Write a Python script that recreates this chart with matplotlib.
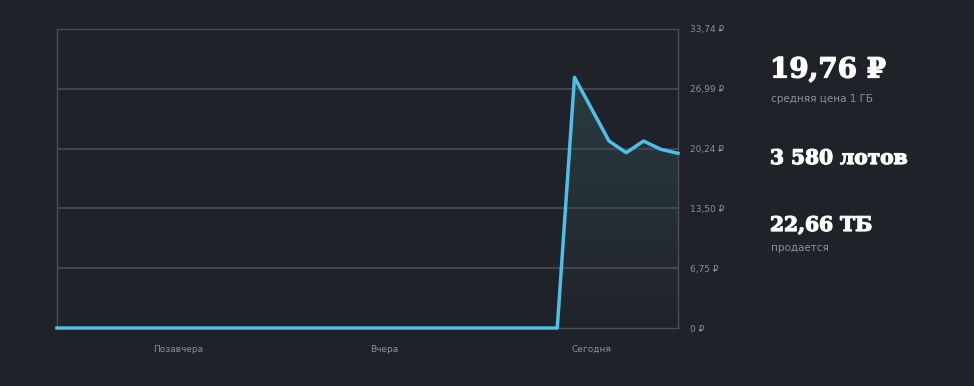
import matplotlib
matplotlib.use("Agg")
import matplotlib.pyplot as plt
import matplotlib.patheffects as pe
import numpy as np
from matplotlib.path import Path
from matplotlib.patches import PathPatch
from matplotlib.colors import LinearSegmentedColormap

# ---- data ----
prices = [0.0] * 30 + [28.29, 24.7, 21.1, 19.78, 21.1, 20.17, 19.71]
x_labels = ["Позавчера", "Вчера", "Сегодня"]
x_label_pos = [7, 19, 31]
y_ticks = [0, 6.75, 13.50, 20.24, 26.99, 33.74]
y_tick_labels = ["0 ₽", "6,75 ₽", "13,50 ₽", "20,24 ₽", "26,99 ₽", "33,74 ₽"]
stat_values = ["19,76 ₽", "3 580 лотов", "22,66 ТБ"]
stat_captions = ["средняя цена 1 ГБ", "", "продается"]

BG = "#1f2229"
GRID = "#4a4d53"
LINE = "#4dbfe8"
TXT = "#8d9096"

fig = plt.figure(figsize=(9.74, 3.86), dpi=100, facecolor=BG)
ax = fig.add_axes([57/974, 58/386, (678-57)/974, (328-29)/386], facecolor=BG)

x = np.arange(len(prices))
y = np.array(prices)
ax.set_xlim(0, len(prices) - 1)
ax.set_ylim(0, y_ticks[-1])

# gradient fill under the line (lighter teal at top, fading to bottom)
verts = [(x[0], 0)] + list(zip(x, y)) + [(x[-1], 0)]
patch = PathPatch(Path(verts), facecolor="none", edgecolor="none")
ax.add_patch(patch)
grad = np.linspace(0, 1, 256).reshape(-1, 1)
cmap = LinearSegmentedColormap.from_list("g", [(0, "#293c40"), (1, "#20242a")])
im = ax.imshow(grad, cmap=cmap, aspect="auto", extent=[x[0], x[-1], 0, y.max()],
               origin="upper", zorder=1)
im.set_clip_path(patch)
ax.set_xlim(0, len(prices) - 1)
ax.set_ylim(0, y_ticks[-1])

for t in y_ticks[1:-1]:
    ax.axhline(t, color=GRID, lw=1.2, zorder=1.5)

ax.plot(x, y, color=LINE, lw=2.5, zorder=3, solid_joinstyle="round", clip_on=False)

for s in ax.spines.values():
    s.set_color(GRID)
    s.set_linewidth(1.0)

ax.yaxis.tick_right()
ax.set_yticks(y_ticks)
ax.set_yticklabels(y_tick_labels)
ax.set_xticks(x_label_pos)
ax.set_xticklabels(x_labels)
ax.tick_params(axis="both", length=0, colors=TXT, labelsize=6.5)
ax.tick_params(axis="y", pad=9)
ax.tick_params(axis="x", pad=12)

# stats on right
heavy = [pe.withStroke(linewidth=0.9, foreground="white")]
fig.text(770/974, 1 - 70/386, stat_values[0], color="white", fontsize=20,
         fontweight="bold", family="DejaVu Serif", va="center", ha="left",
         path_effects=heavy)
fig.text(771/974, 1 - 99/386, stat_captions[0], color=TXT, fontsize=7.5,
         va="center", ha="left")
fig.text(770/974, 1 - 158/386, stat_values[1], color="white", fontsize=14.5,
         fontweight="bold", family="DejaVu Serif", va="center", ha="left",
         path_effects=heavy)
fig.text(770/974, 1 - 225/386, stat_values[2], color="white", fontsize=14.5,
         fontweight="bold", family="DejaVu Serif", va="center", ha="left",
         path_effects=heavy)
fig.text(771/974, 1 - 248/386, stat_captions[2], color=TXT, fontsize=7.5,
         va="center", ha="left")

fig.savefig("out.png", dpi=100, facecolor=BG)
